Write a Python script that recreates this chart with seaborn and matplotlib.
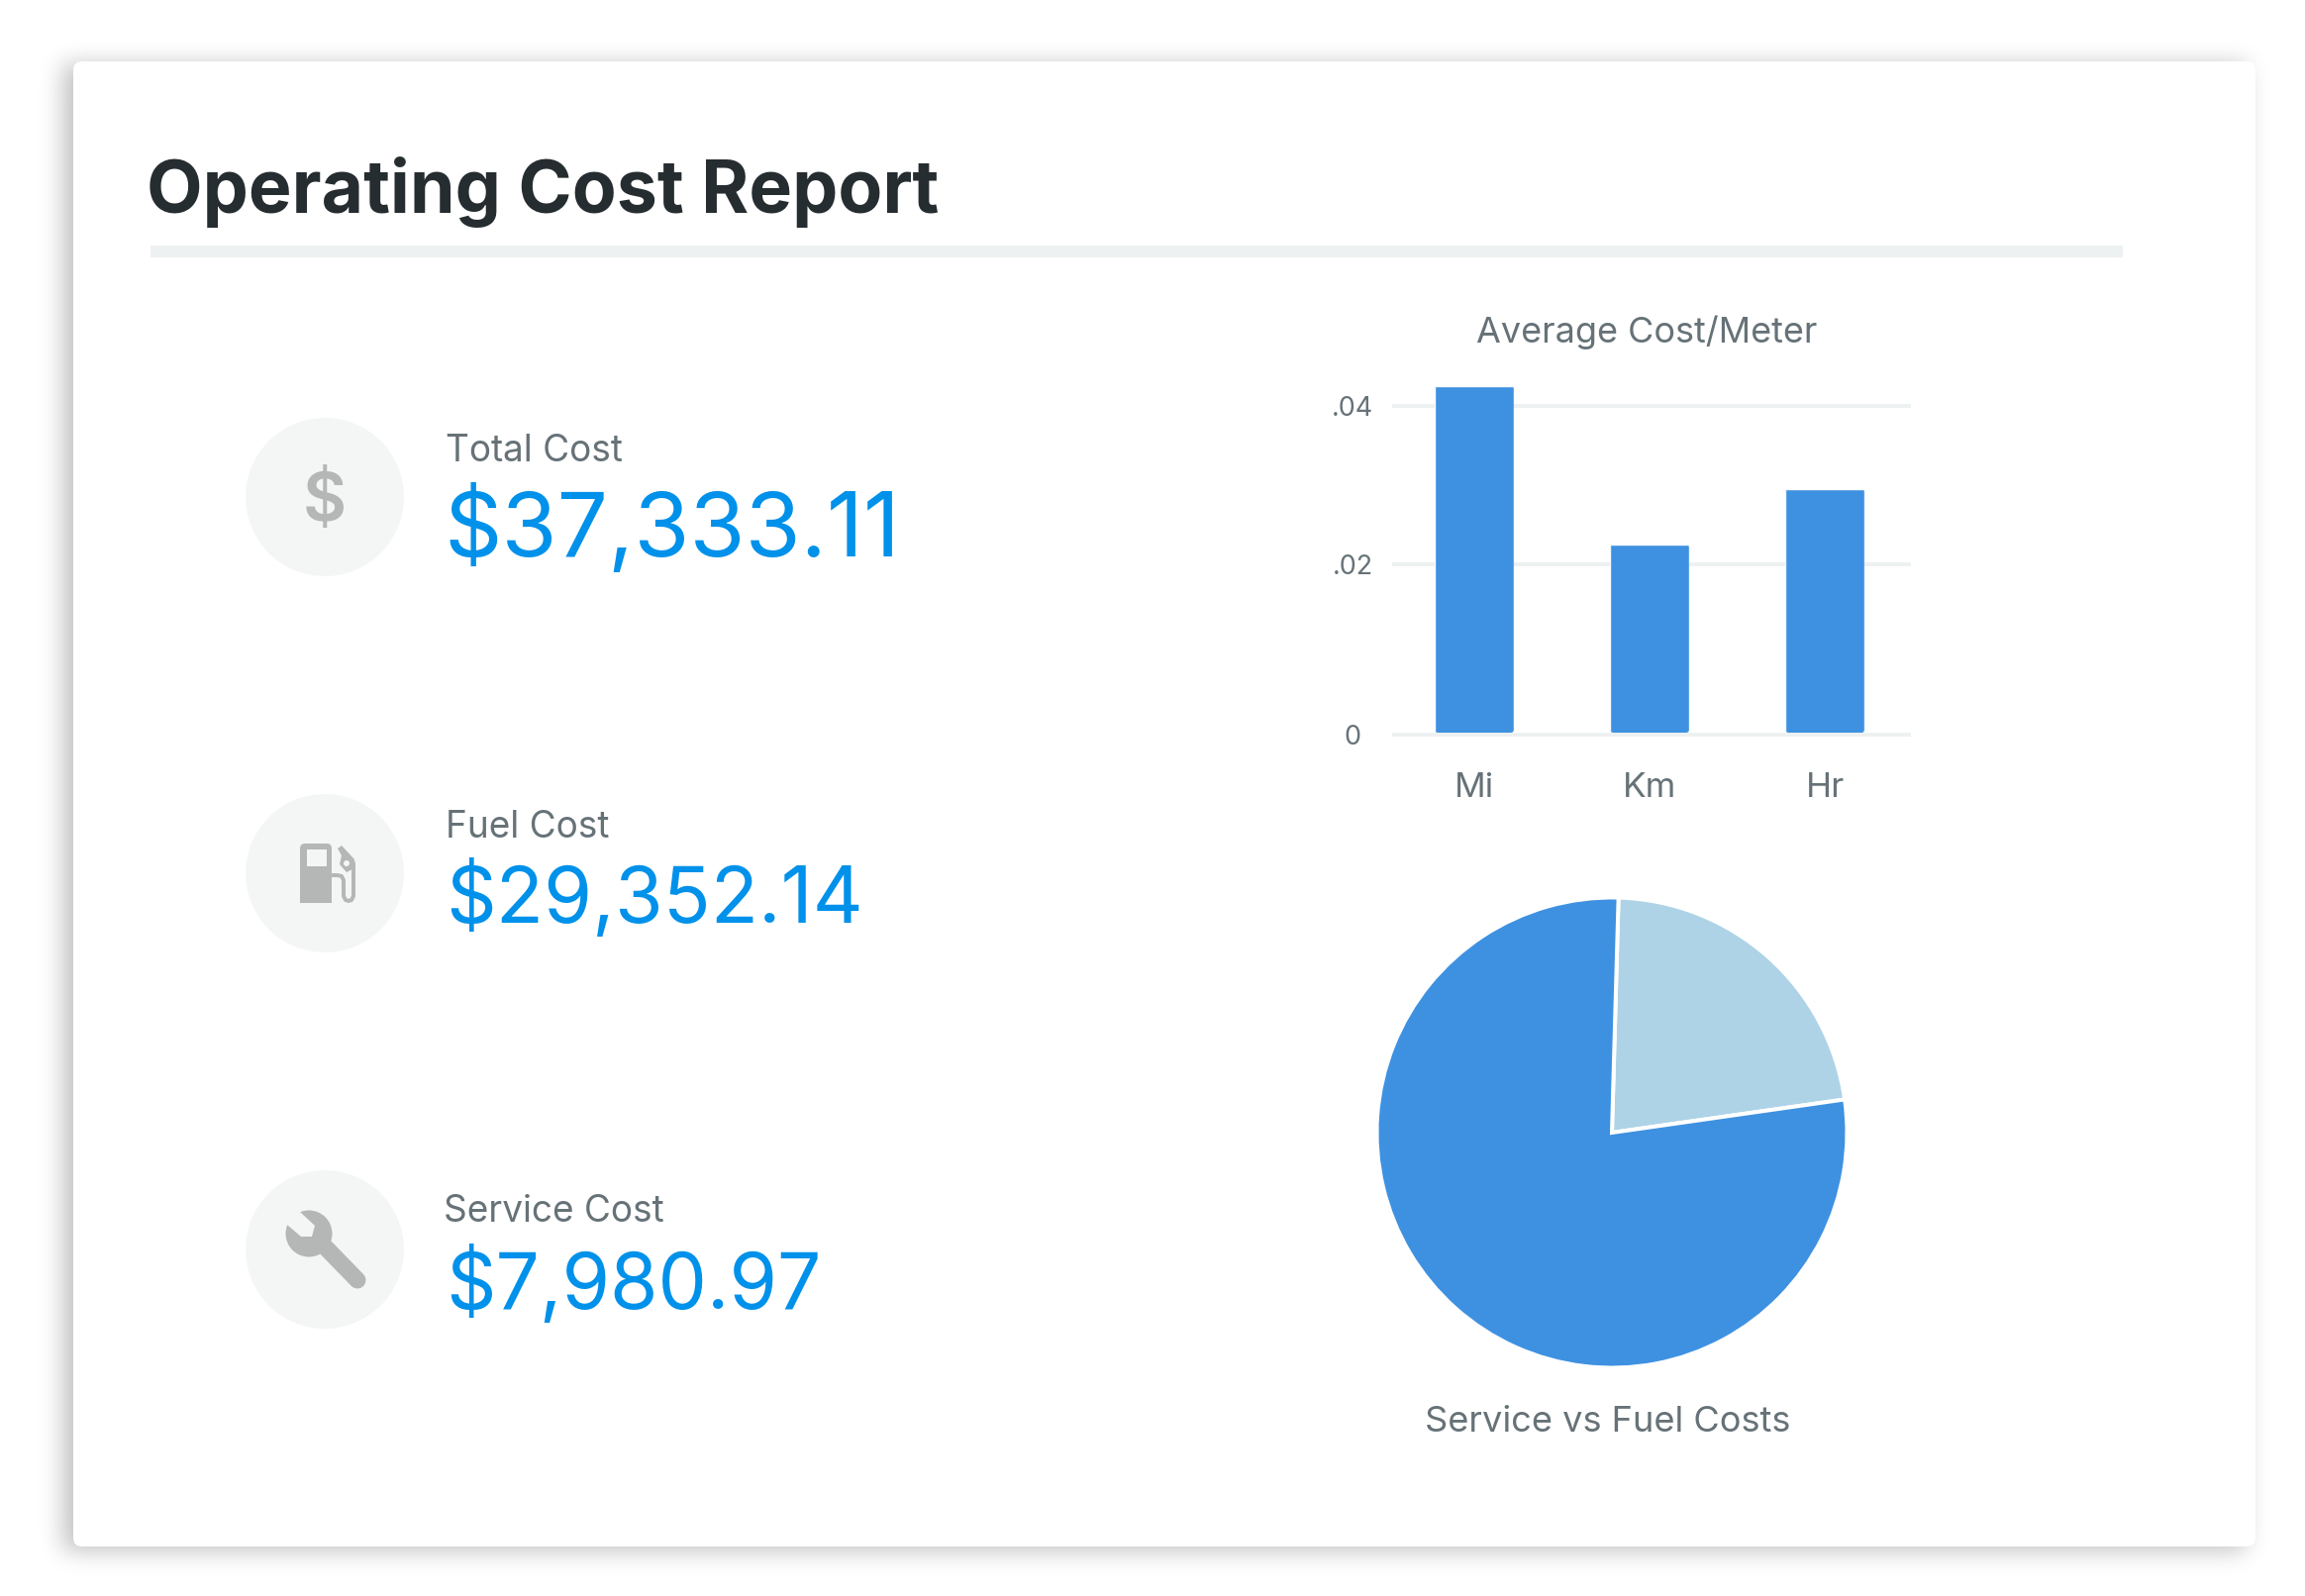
import matplotlib
matplotlib.use("Agg")
import matplotlib.pyplot as plt
import numpy as np
import pandas as pd
import seaborn as sns
from matplotlib.patches import Circle, FancyBboxPatch, Polygon, Rectangle

# values
meter_units = ["Mi", "Km", "Hr"]
meter_costs = [0.04242, 0.02313, 0.02989]
meter_ticks = [0, 0.02077, 0.04]
meter_tick_labels = ["0", ".02", ".04"]
pie_shares = [22.3, 77.7]
cost_labels = ["Total Cost", "Fuel Cost", "Service Cost"]
cost_values = ["$37,333.11", "$29,352.14", "$7,980.97"]

W, H = 2328, 1612
PT = 0.72  # points per pixel at dpi 100
BLUE = "#3e91e1"
LIGHT_BLUE = "#aed3e7"
VALUE_BLUE = "#0091ea"
GREY_TEXT = "#667277"
RULE = "#eef1f1"
ICON = "#b5b7b6"
ICON_BG = "#f4f6f6"

sns.set_theme(style="white")
plt.rcParams["font.family"] = ["Inter", "DejaVu Sans"]


def axes_from_pixels(fig, left, top, right, bottom):
    return fig.add_axes([left / W, 1 - bottom / H, (right - left) / W, (bottom - top) / H])


def blurred_edges(size, start, end, sigma):
    xs = np.arange(-4 * int(sigma), 4 * int(sigma) + 1)
    kernel = np.exp(-0.5 * (xs / sigma) ** 2)
    kernel /= kernel.sum()
    solid = np.zeros(size)
    solid[start:end] = 1
    return np.convolve(solid, kernel, mode="same")


def draw_card(bg):
    shadow = np.outer(blurred_edges(H, 65, 1566, 12), blurred_edges(W, 64, 2268, 12))
    rgba = np.zeros((H, W, 4))
    rgba[..., 3] = 0.25 * shadow
    bg.imshow(rgba, extent=(0, W, H, 0), aspect="auto", zorder=1)
    bg.add_patch(FancyBboxPatch((74, 62), 2204, 1500, boxstyle="round,pad=0,rounding_size=9",
                                fc="white", ec="none", zorder=2))
    bg.add_patch(Rectangle((152, 248), 1992, 12, fc=RULE, ec="none", zorder=3))
    bg.text(147.5, 215, "Operating Cost Report", fontsize=73.4 * PT, fontweight="bold",
            color="#262d30", va="baseline", zorder=4)


def draw_fuel_icon(bg):
    bg.add_patch(FancyBboxPatch((303, 852), 32, 60, boxstyle="round,pad=0,rounding_size=5",
                                fc=ICON, ec="none", zorder=5))
    bg.add_patch(Rectangle((303, 900), 32, 12, fc=ICON, ec="none", zorder=5))
    bg.add_patch(Rectangle((310, 858), 20, 17, fc=ICON_BG, ec="none", zorder=6))
    hose_x = [335, 341, 345, 347, 347, 349, 352, 355, 357, 357, 355]
    hose_y = [884, 884, 885, 889, 905, 909, 910, 909, 905, 872, 868]
    bg.plot(hose_x, hose_y, color=ICON, lw=4 * PT, solid_capstyle="butt", zorder=5)
    nozzle = [(341, 857), (345, 854), (358, 868), (358, 877), (350, 881), (343, 873), (345, 864)]
    bg.add_patch(Polygon(nozzle, fc=ICON, ec="none", zorder=5))
    bg.add_patch(Circle((350, 872), 3, fc=ICON_BG, ec="none", zorder=6))


def draw_wrench_icon(bg):
    bg.add_patch(Circle((312, 1246), 23.5, fc=ICON, ec="none", zorder=5))
    bg.plot([325, 361], [1256, 1293], color=ICON, lw=17 * PT, solid_capstyle="round", zorder=5)
    notch = [(303, 1224), (318, 1238), (315, 1249), (304, 1249), (290, 1237), (284, 1222), (295, 1212)]
    bg.add_patch(Polygon(notch, fc=ICON_BG, ec="none", zorder=6))


def draw_costs(bg):
    label_pos = [(450, 466), (450, 846), (448, 1234)]
    value_pos = [(449, 562), (450, 932), (450, 1322)]
    value_sizes = [91, 79, 78.5]
    for y in [502, 882, 1262]:
        bg.add_patch(Circle((328, y), 80, fc=ICON_BG, ec="none", zorder=4))
    bg.text(328, 508, "$", fontsize=68 * PT, fontweight="semibold", color=ICON,
            ha="center", va="center", zorder=5)
    draw_fuel_icon(bg)
    draw_wrench_icon(bg)
    for name, value, lpos, vpos, size in zip(cost_labels, cost_values, label_pos, value_pos, value_sizes):
        bg.text(lpos[0], lpos[1], name, fontsize=37 * PT, color=GREY_TEXT, va="baseline", zorder=5)
        bg.text(vpos[0], vpos[1], value, fontsize=size * PT, color=VALUE_BLUE, va="baseline", zorder=5)


def draw_meter_bars(fig):
    # 8300 px per unit, zero line sits at y=742 px
    y_min, y_max = -0.0006, 0.044
    ax = axes_from_pixels(fig, 1406, 742 - y_max * 8300, 1930, 742 - y_min * 8300)
    ax.patch.set_alpha(0)
    costs = pd.DataFrame({"unit": meter_units, "cost": meter_costs})
    sns.barplot(data=costs, x="unit", y="cost", color=BLUE, saturation=1, width=0.452, ax=ax)
    ax.set_xlim(-0.469, 2.49)
    ax.set_ylim(y_min, y_max)
    ax.set_xlabel("")
    ax.set_ylabel("")
    ax.set_yticks(meter_ticks)
    ax.set_yticklabels(meter_tick_labels)
    ax.grid(axis="y", color=RULE, linewidth=4 * PT)
    ax.set_axisbelow(True)
    sns.despine(ax=ax, left=True, bottom=True)
    ax.tick_params(axis="y", length=0, pad=40 * PT, labelsize=27 * PT, labelcolor=GREY_TEXT)
    ax.tick_params(axis="x", length=0, pad=33 * PT, labelsize=35 * PT, labelcolor=GREY_TEXT)
    for label in ax.get_yticklabels():
        label.set_ha("center")
    # small rounded corners on the bars
    for bar in ax.patches:
        clip = FancyBboxPatch((bar.get_x(), 0.00024), bar.get_width(), bar.get_height() - 0.00024,
                              boxstyle="round,pad=0,rounding_size=0.02",
                              mutation_aspect=177 / 8300, transform=ax.transData)
        bar.set_clip_path(clip)
    fig.text(1663.5 / W, 1 - 346 / H, "Average Cost/Meter", fontsize=36 * PT,
             color=GREY_TEXT, ha="center", va="baseline")


def draw_cost_pie(fig):
    ax = axes_from_pixels(fig, 1628 - 240, 1144 - 240, 1628 + 240, 1144 + 240)
    ax.pie(pie_shares, colors=[LIGHT_BLUE, BLUE], startangle=88.4, counterclock=False, radius=237.5 / 240,
           wedgeprops={"edgecolor": "white", "linewidth": 4 * PT})
    ax.set_xlim(-1, 1)
    ax.set_ylim(-1, 1)
    fig.text(1623.5 / W, 1 - 1446 / H, "Service vs Fuel Costs", fontsize=36.2 * PT,
             color=GREY_TEXT, ha="center", va="baseline")


def main():
    fig = plt.figure(figsize=(W / 100, H / 100), dpi=100, facecolor="white")
    bg = fig.add_axes([0, 0, 1, 1])
    bg.set_xlim(0, W)
    bg.set_ylim(H, 0)
    bg.axis("off")
    draw_card(bg)
    draw_costs(bg)
    bg.set_xlim(0, W)
    bg.set_ylim(H, 0)
    draw_meter_bars(fig)
    draw_cost_pie(fig)
    fig.savefig("out.png", dpi=100)


if __name__ == "__main__":
    main()
